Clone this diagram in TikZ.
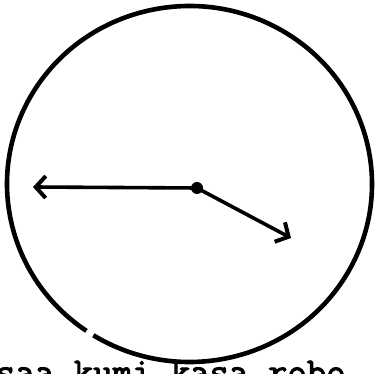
\documentclass[tikz,border=0pt]{standalone}
\usepackage{fontspec}
\newfontfamily\capfont[FakeBold=2.5]{Latin Modern Mono}
\usetikzlibrary{arrows.meta}
\tikzset{
  rim/.style={line width=4.6pt},
  hand/.style={line width=3.6pt, -{Straight Barb[length=10pt,width=22pt,line width=4pt]}},
  hub/.style={circle, fill=black, inner sep=0pt, minimum size=12pt},
  caption/.style={anchor=base west, inner sep=0pt, font=\capfont\fontsize{37.7}{38}\selectfont}
}
\begin{document}
\begin{tikzpicture}[x=1pt,y=1pt]
\useasboundingbox (0,0) rectangle (375,374);
\coordinate (o) at (189.5,190);
\draw[rim] (o) ++(238.2:182.5 and 178) arc[start angle=238.2, end angle=595.6, x radius=182.5, y radius=178];
\node[hub] (c) at (197,186) {};
\coordinate (tipA) at (33,187);
\coordinate (tipB) at (291,136);
\draw[hand] (c.center) -- (tipA);
\draw[hand] (c.center) -- (tipB);
\node[caption] (t) at (-4,-10) {saa kumi kasa robo};
\end{tikzpicture}
\end{document}
